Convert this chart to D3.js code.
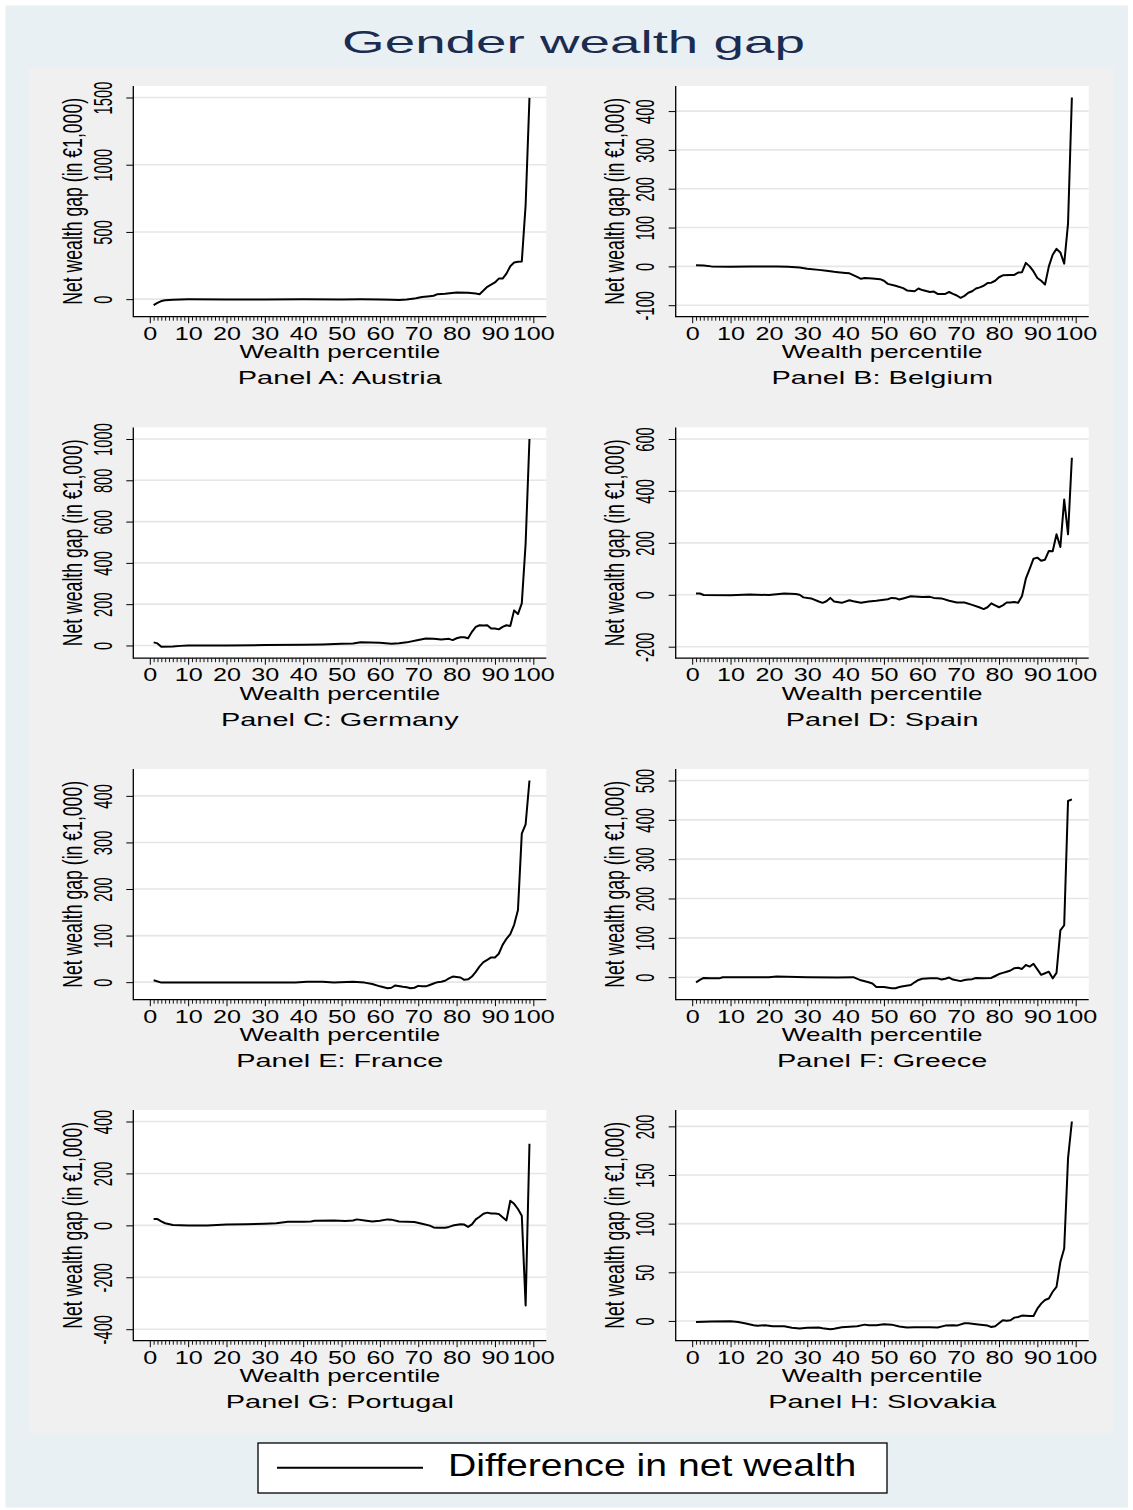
<!DOCTYPE html>
<html>
<head>
<meta charset="utf-8">
<script src="https://cdn.jsdelivr.net/npm/d3@7"></script>
<style>
  body { margin: 0; background: #fff; }
  text { font-family: "Liberation Sans", Arial, Helvetica, sans-serif; fill: #000; }
</style>
</head>
<body>
<svg id="chart" width="1133" height="1510"></svg>
<script>
(function () {
  'use strict';

  // data: [wealth percentile, net wealth gap in 1,000 EUR]
  var austria = [[1,-45],[2,-28],[3,-14],[4,-8],[6,-4],[8,-2],[10,-1],[20,-2],[30,-2],[40,-1],[50,-2],
    [55,-1],[60,-2],[63,-4],[65,-7],[67,-3],[69,4],[70,10],[71,16],[73,22],[74,25],[75,37],[77,40],
    [80,50],[83,47],[85,42],[86,37],[88,92],[90,124],[91,153],[92,153],[93,190],[94,245],[95,272],
    [96,278],[97,280],[98,700],[99,1497]];

  var belgium = [[1,3],[3,2],[5,0],[10,-1],[15,0],[20,0],[22,0],[25,-1],[28,-3],[30,-6],[33,-9],
    [35,-11],[37,-14],[38,-15],[40,-17],[41,-18],[43,-27],[44,-32],[45,-30],[47,-31],[49,-33],
    [50,-37],[51,-45],[53,-50],[55,-56],[56,-62],[58,-64],[59,-57],[60,-61],[62,-66],[63,-65],
    [64,-71],[66,-71],[67,-66],[68,-71],[69,-75],[70,-81],[71,-76],[72,-68],[73,-64],[74,-57],
    [75,-54],[76,-50],[77,-43],[78,-42],[79,-37],[80,-28],[81,-23],[83,-22],[84,-22],[85,-16],
    [86,-15],[87,9],[88,0],[89,-13],[90,-30],[91,-37],[92,-47],[93,0],[94,30],[95,45],[96,36],
    [97,7],[98,110],[99,435]];

  var germany = [[1,15],[2,10],[3,-6],[6,-5],[8,-2],[10,0],[20,0],[30,2],[40,3],[45,5],[50,8],
    [53,10],[55,15],[60,13],[63,8],[65,11],[67,15],[70,26],[72,34],[74,32],[76,29],[78,32],
    [79,26],[80,35],[81,40],[82,40],[83,35],[84,66],[85,90],[86,98],[87,97],[88,98],[89,82],
    [90,82],[91,78],[92,90],[93,98],[94,94],[95,170],[96,152],[97,204],[98,494],[99,1000]];

  var spain = [[1,5],[2,5],[3,-1],[10,-2],[15,1],[20,-1],[24,5],[27,3],[28,0],[29,-10],[31,-14],
    [33,-26],[34,-31],[35,-25],[36,-12],[37,-26],[39,-31],[41,-21],[42,-25],[44,-31],[46,-26],
    [48,-23],[50,-19],[51,-17],[52,-12],[53,-13],[54,-18],[55,-14],[57,-6],[60,-9],[62,-8],
    [63,-12],[65,-14],[67,-23],[69,-30],[71,-30],[73,-39],[75,-49],[76,-55],[77,-48],[78,-33],
    [79,-41],[80,-48],[81,-41],[82,-30],[83,-30],[84,-28],[85,-31],[86,-5],[87,62],[88,100],
    [89,139],[90,143],[91,131],[92,135],[93,169],[94,168],[95,233],[96,184],[97,367],[98,233],
    [99,528]];

  var france = [[1,4],[3,-1],[10,-1],[20,-1],[30,-1],[38,-1],[41,1],[45,1],[48,-1],[53,1],[56,-1],
    [58,-4],[60,-9],[62,-13],[63,-12],[64,-7],[66,-10],[67,-11],[68,-13],[69,-12],[70,-8],[71,-9],
    [72,-9],[73,-6],[74,-3],[75,0],[76,1],[77,3],[78,8],[79,12],[80,11],[81,10],[82,5],[83,6],
    [84,12],[85,22],[86,34],[87,43],[88,48],[89,53],[90,53],[91,61],[92,80],[93,93],[94,103],
    [95,123],[96,155],[97,319],[98,339],[99,433]];

  var greece = [[1,-13],[2,-7],[3,-2],[5,-3],[7,-3],[8,0],[20,0],[22,2],[30,0],[38,-1],[42,0],
    [44,-8],[46,-13],[47,-16],[48,-25],[50,-25],[52,-28],[53,-28],[54,-25],[55,-23],[57,-20],
    [58,-13],[59,-7],[60,-4],[62,-3],[64,-3],[65,-6],[66,-4],[67,-1],[68,-6],[70,-10],[71,-7],
    [72,-6],[73,-5],[74,-2],[76,-3],[78,-2],[79,3],[80,8],[81,11],[82,14],[83,17],[84,23],[85,24],
    [86,21],[87,31],[88,27],[89,34],[90,20],[91,6],[92,10],[93,14],[94,-3],[95,11],[96,119],
    [97,132],[98,448],[99,452]];

  var portugal = [[1,24],[2,24],[3,15],[4,8],[6,1],[10,-1],[15,-1],[20,3],[25,4],[30,6],[33,8],
    [36,14],[40,14],[42,15],[43,18],[48,19],[51,17],[53,19],[54,23],[56,19],[58,15],[60,18],
    [62,23],[63,22],[65,15],[67,14],[69,13],[71,6],[73,-1],[74,-8],[75,-9],[77,-9],[78,-6],
    [79,-1],[81,4],[82,3],[83,-6],[84,4],[85,23],[86,33],[87,45],[88,49],[89,46],[90,46],[91,44],
    [92,31],[93,19],[94,95],[95,83],[96,63],[97,37],[98,-309],[99,314]];

  var slovakia = [[1,-1],[5,-0.7],[10,-0.3],[12,-1],[14,-2.7],[16,-4.4],[17,-5],[19,-4.4],
    [21,-5.5],[24,-5.5],[26,-7],[28,-7.9],[30,-7],[33,-6.8],[34,-7.5],[36,-8.5],[37,-8],[39,-6.5],
    [41,-6],[43,-5.5],[45,-3.8],[46,-4.4],[48,-4.4],[50,-3.4],[52,-3.8],[54,-5.8],[56,-6.8],
    [58,-6.5],[62,-6.5],[64,-6.8],[66,-4.8],[68,-4.4],[69,-4.8],[71,-2.4],[72,-2.4],[74,-3.4],
    [77,-4.8],[78,-6.2],[79,-5.5],[80,-2.4],[81,0.7],[82,0.3],[83,0.7],[84,3.4],[85,4],[86,5.5],
    [88,5],[89,5],[90,12.6],[91,17.8],[92,21.5],[93,23],[94,30],[95,35],[96,60.5],[97,74.5],
    [98,167],[99,205]];

  var panelTitles = ['Panel A: Austria', 'Panel B: Belgium', 'Panel C: Germany', 'Panel D: Spain',
    'Panel E: France', 'Panel F: Greece', 'Panel G: Portugal', 'Panel H: Slovakia'];
  var series = [austria, belgium, germany, spain, france, greece, portugal, slovakia];
  var yTicks = [
    [0, 500, 1000, 1500],
    [-100, 0, 100, 200, 300, 400],
    [0, 200, 400, 600, 800, 1000],
    [-200, 0, 200, 400, 600],
    [0, 100, 200, 300, 400],
    [0, 100, 200, 300, 400, 500],
    [-400, -200, 0, 200, 400],
    [0, 50, 100, 150, 200]
  ];
  var xMajor = d3.range(0, 101, 10);
  var xMinor = d3.range(1, 100).filter(function (d) { return d % 10 !== 0; });

  var chartTitle = 'Gender wealth gap',
      xTitle = 'Wealth percentile',
      yTitle = 'Net wealth gap (in \u20ac1,000)',
      legendLabel = 'Difference in net wealth';

  // layout
  var colLeft = [133.3, 675.7], rowTop = [86, 427.5, 769, 1110],
      plotW = 413, plotH = 230.7,
      padL = 16.5, padR = 13, padV = 11.5;

  var svg = d3.select('#chart');

  svg.append('rect').attr('x', 5.5).attr('y', 5.5).attr('width', 1122.5).attr('height', 1502)
    .style('fill', '#e9f0f3');
  svg.append('rect').attr('x', 29).attr('y', 68).attr('width', 1085).attr('height', 1365)
    .style('fill', '#f0f0f0');

  function place(sel, x, y, rot, sx) {
    sel.attr('transform', 'translate(' + x + ',' + y + ')' +
      (rot ? ' rotate(' + rot + ')' : '') + ' scale(' + sx + ',1)');
  }

  function naturalWidth(str, size) {
    var t = svg.append('text').style('font-size', size + 'px').text(str);
    var w = t.node().getComputedTextLength();
    t.remove();
    return w;
  }

  var subScale = 204 / naturalWidth(panelTitles[0], 18.5),
      xtScale = 201 / naturalWidth(xTitle, 17.5),
      ytScale = 207 / naturalWidth(yTitle, 27);

  series.forEach(function (data, i) {
    var L = colLeft[i % 2], T = rowTop[Math.floor(i / 2)], B = T + plotH, R = L + plotW;

    var x = d3.scaleLinear().domain([0, 100]).range([L + padL, R - padR]);
    var y = d3.scaleLinear()
      .domain(d3.extent(data.map(function (d) { return d[1]; }).concat(yTicks[i])))
      .range([B - padV, T + padV]);

    var g = svg.append('g');

    g.append('rect').attr('x', L).attr('y', T).attr('width', plotW).attr('height', plotH)
      .style('fill', '#fff');

    g.selectAll('.grid')
      .data(yTicks[i])
      .enter()
      .append('line')
      .attr('class', 'grid')
      .attr('x1', L).attr('x2', R)
      .attr('y1', function (d) { return y(d); })
      .attr('y2', function (d) { return y(d); })
      .style('stroke', '#e6e6e6')
      .style('stroke-width', 1.6);

    // y axis
    var yAxis = d3.axisLeft(y).tickValues(yTicks[i]).tickSize(7).tickSizeOuter(0)
      .tickFormat(function (d) { return String(d); });
    var ya = g.append('g').attr('transform', 'translate(' + L + ',0)').call(yAxis);
    ya.select('.domain').remove();
    ya.selectAll('line').style('stroke', '#000').style('stroke-width', 1);
    ya.selectAll('text')
      .attr('x', 0).attr('y', 0).attr('dy', 0)
      .style('font-size', '26px')
      .style('text-anchor', 'middle')
      .style('font-family', '"Liberation Sans", Arial, sans-serif')
      .each(function () { place(d3.select(this), -21.5, 0, -90, 0.567); });

    // x axis
    var xAxisMinor = d3.axisBottom(x).tickValues(xMinor).tickSize(4).tickSizeOuter(0).tickFormat('');
    var xMin = g.append('g').attr('transform', 'translate(0,' + B + ')').call(xAxisMinor);
    xMin.select('.domain').remove();
    xMin.selectAll('line').style('stroke', '#000').style('stroke-width', 0.9);

    var xAxis = d3.axisBottom(x).tickValues(xMajor).tickSize(6.5).tickSizeOuter(0);
    var xa = g.append('g').attr('transform', 'translate(0,' + B + ')').call(xAxis);
    xa.select('.domain').remove();
    xa.selectAll('line').style('stroke', '#000').style('stroke-width', 1);
    xa.selectAll('text')
      .attr('x', 0).attr('y', 0).attr('dy', 0)
      .style('font-size', '18px')
      .style('font-family', '"Liberation Sans", Arial, sans-serif')
      .each(function () { place(d3.select(this), 0, 23, 0, 1.4); });

    // axis lines
    g.append('line').attr('x1', L).attr('x2', L).attr('y1', T).attr('y2', B + 0.5)
      .style('stroke', '#000').style('stroke-width', 1.3);
    g.append('line').attr('x1', L).attr('x2', R).attr('y1', B).attr('y2', B)
      .style('stroke', '#000').style('stroke-width', 1.3);

    // series line
    var line = d3.line()
      .x(function (d) { return x(d[0]); })
      .y(function (d) { return y(d[1]); });

    g.append('path')
      .datum(data)
      .attr('d', line)
      .style('fill', 'none')
      .style('stroke', '#000')
      .style('stroke-width', 2)
      .style('stroke-linejoin', 'round');

    // titles
    var cx = L + plotW / 2;
    var xt = g.append('text').text(xTitle)
      .style('font-size', '17.5px').style('text-anchor', 'middle');
    place(xt, cx, B + 41.5, 0, xtScale);

    var st = g.append('text').text(panelTitles[i])
      .style('font-size', '18.5px').style('text-anchor', 'middle');
    place(st, cx, B + 67.5, 0, subScale);

    var yt = g.append('text').text(yTitle)
      .style('font-size', '27px').style('text-anchor', 'middle');
    place(yt, L - 51.6, T + plotH / 2, -90, ytScale);
  });

  // main title
  var title = svg.append('text').text(chartTitle)
    .style('font-size', '31px').style('text-anchor', 'middle').style('fill', '#1c2c50');
  place(title, 573.5, 53, 0, 463 / naturalWidth(chartTitle, 31));

  // legend
  svg.append('rect').attr('x', 258).attr('y', 1443).attr('width', 629).attr('height', 50)
    .style('fill', '#fff').style('stroke', '#000').style('stroke-width', 1.3);
  svg.append('line').attr('x1', 277).attr('x2', 423).attr('y1', 1467.7).attr('y2', 1467.7)
    .style('stroke', '#000').style('stroke-width', 2);
  var lt = svg.append('text').text(legendLabel).style('font-size', '31px');
  place(lt, 448, 1476, 0, 408.6 / naturalWidth(legendLabel, 31));
}());
</script>
</body>
</html>
